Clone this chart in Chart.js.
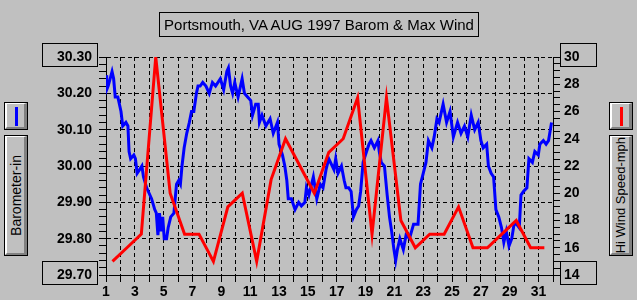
<!DOCTYPE html>
<html>
<head>
<meta charset="utf-8">
<script src="https://cdn.jsdelivr.net/npm/chart.js@4.4.1/dist/chart.umd.min.js"></script>
<style>
    body { margin: 0; background: #c0c0c0; }
    #wrap { position: relative; width: 637px; height: 300px; background: #c0c0c0; font-family: 'Liberation Sans', Arial, sans-serif; overflow: hidden; }
    #chart { position: absolute; left: 0; top: 0; }
    .title { position: absolute; left: 159px; top: 12px; width: 318px; height: 23px; border: 1px solid #000; font-size: 15px; line-height: 23px; text-align: center; color: #000; }
    .btn { position: absolute; box-sizing: border-box; width: 22px; background: #c0c0c0;
           border-style: solid; border-width: 1px 3px 2px 2px; border-color: #fff #808080 #808080 #fff; outline: 1px solid #000; }
    .swatch { position: absolute; left: 8px; top: 3px; width: 3px; height: 19px; }
    .vtext { position: absolute; left: 0; top: 0; width: 100%; height: 100%; display: flex; align-items: center; justify-content: center; }
    .vtext span { writing-mode: vertical-rl; transform: rotate(180deg); font-size: 14px; white-space: nowrap; color: #000; }
</style>
</head>
<body>
<div id="wrap">
    <canvas id="chart" width="637" height="300"></canvas>
    <div class="title">Portsmouth, VA AUG 1997 Barom &amp; Max Wind</div>
    <div class="btn" style="left:5px; top:103px; height:26px;"><div class="swatch" style="background:#0000ff"></div></div>
    <div class="btn" style="left:5px; top:136px; height:119px;"><div class="vtext"><span>Barometer-in</span></div></div>
    <div class="btn" style="left:610px; top:103px; height:26px;"><div class="swatch" style="background:#ff0000"></div></div>
    <div class="btn" style="left:610px; top:136px; height:119px;"><div class="vtext"><span style="font-size:13px">Hi Wind Speed-mph</span></div></div>
</div>
<script>
// barometer readings (day of month, inches)
const baroDays = [
    1.00, 1.05, 1.15, 1.42, 1.53, 1.64, 1.82, 2.04, 2.16, 2.38, 2.52, 2.60, 2.71, 2.93, 3.04, 3.16,
    3.33, 3.49, 3.60, 3.82, 4.16, 4.38, 4.49, 4.60, 4.71, 4.82, 4.93, 5.04, 5.20, 5.31, 5.49, 5.71,
    5.89, 6.04, 6.16, 6.27, 6.42, 6.60, 6.78, 6.93, 7.09, 7.27, 7.38, 7.53, 7.71, 7.93, 8.16, 8.38,
    8.60, 8.93, 9.16, 9.38, 9.49, 9.64, 9.78, 9.93, 10.16, 10.44, 10.60, 10.82, 11.04, 11.16, 11.38, 11.56,
    11.64, 11.82, 12.09, 12.38, 12.60, 12.89, 13.00, 13.24, 13.40, 13.54, 13.64, 13.86, 14.11, 14.36, 14.55, 14.79,
    14.90, 15.07, 15.38, 15.62, 15.86, 16.05, 16.26, 16.45, 16.57, 16.81, 16.93, 17.09, 17.33, 17.52, 17.64, 17.83,
    18.00, 18.16, 18.36, 18.52, 18.66, 18.83, 19.07, 19.24, 19.38, 19.61, 19.86, 19.95, 20.09, 20.31, 20.50, 20.66,
    20.81, 20.97, 21.09, 21.21, 21.38, 21.62, 21.81, 22.05, 22.33, 22.64, 22.81, 23.00, 23.19, 23.36, 23.60, 23.76,
    23.95, 24.10, 24.38, 24.62, 24.86, 25.09, 25.38, 25.62, 25.86, 26.09, 26.33, 26.57, 26.81, 27.00, 27.16, 27.40,
    27.52, 27.71, 27.88, 28.04, 28.24, 28.43, 28.59, 28.76, 28.95, 29.14, 29.30, 29.47, 29.66, 29.78, 29.95, 30.19,
    30.33, 30.57, 30.74, 30.98, 31.09, 31.33, 31.52, 31.69, 31.90
];
const baroValues = [
    30.25, 30.21, 30.22, 30.26, 30.24, 30.19, 30.19, 30.15, 30.11, 30.12, 30.11, 30.04, 30.02, 30.03, 30.02, 29.98,
    29.99, 30.00, 29.97, 29.94, 29.91, 29.88, 29.87, 29.81, 29.87, 29.82, 29.86, 29.80, 29.80, 29.83, 29.86, 29.87,
    29.95, 29.96, 29.95, 30.00, 30.05, 30.09, 30.12, 30.15, 30.15, 30.20, 30.22, 30.22, 30.23, 30.22, 30.20, 30.23,
    30.22, 30.24, 30.21, 30.26, 30.27, 30.22, 30.20, 30.23, 30.19, 30.24, 30.20, 30.19, 30.18, 30.14, 30.17, 30.17,
    30.12, 30.14, 30.11, 30.13, 30.09, 30.12, 30.06, 30.03, 30.00, 29.96, 29.91, 29.91, 29.88, 29.90, 29.89, 29.90,
    29.94, 29.92, 29.97, 29.91, 29.95, 29.94, 29.99, 30.02, 30.01, 29.99, 30.02, 29.98, 30.00, 29.96, 29.94, 29.94,
    29.93, 29.86, 29.88, 29.89, 29.93, 30.01, 30.04, 30.06, 30.07, 30.05, 30.07, 30.04, 30.01, 30.00, 29.92, 29.86,
    29.82, 29.77, 29.74, 29.77, 29.80, 29.77, 29.81, 29.80, 29.84, 29.84, 29.95, 29.98, 30.01, 30.07, 30.05, 30.08,
    30.13, 30.12, 30.17, 30.12, 30.15, 30.08, 30.12, 30.09, 30.11, 30.08, 30.14, 30.10, 30.12, 30.07, 30.05, 30.06,
    30.00, 29.98, 29.97, 29.88, 29.86, 29.83, 29.79, 29.82, 29.78, 29.80, 29.84, 29.84, 29.83, 29.92, 29.93, 29.94,
    30.02, 30.01, 30.04, 30.03, 30.06, 30.07, 30.06, 30.07, 30.12
];

// daily max wind (mph), plotted around midday
const windDays = [
    1.45, 2.45, 3.45, 4.45, 5.45, 6.45, 7.45, 8.45, 9.45, 10.45, 11.45, 12.45, 13.45, 14.45, 15.45, 16.45,
    17.45, 18.45, 19.45, 20.45, 21.45, 22.45, 23.45, 24.45, 25.45, 26.45, 27.45, 28.45, 29.45, 30.45, 31.4
];
const windSpeed = [
    15, 16, 17, 30, 20, 17, 17, 15, 19, 20, 15, 21, 24, 22, 20, 23,
    24, 27, 17, 27, 18, 16, 17, 17, 19, 16, 16, 17, 18, 16, 16
];

const baroRange = [29.70, 30.30];
const windRange = [14, 30];
const dayRange = [1, 32];

const tickFont = { family: "'Liberation Sans', Arial, sans-serif", size: 14, weight: 'bold' };
const isStep = (v, s) => Math.abs(Math.round(v / s) * s - v) < 1e-6;

const endBoxes = {
    id: 'endBoxes',
    afterDraw(chart) {
        const ctx = chart.ctx;
        const yl = chart.scales.y;
        const yr = chart.scales.y2;
        ctx.save();
        ctx.strokeStyle = '#000';
        ctx.lineWidth = 1;
        [yl.max, yl.min].forEach(v => {
            const py = Math.round(yl.getPixelForValue(v));
            ctx.strokeRect(42.5, py - 13.5, 55, 23);
        });
        [yr.max, yr.min].forEach(v => {
            const py = Math.round(yr.getPixelForValue(v));
            ctx.strokeRect(560.5, py - 13.5, 36, 23);
        });
        ctx.restore();
    }
};

new Chart(document.getElementById('chart'), {
    type: 'line',
    data: {
        datasets: [
            {
                label: 'Hi Wind Speed-mph',
                data: windDays.map((d, i) => ({ x: d, y: windSpeed[i] })),
                yAxisID: 'y2',
                borderColor: '#ff0000',
                borderWidth: 3,
                pointRadius: 0,
                tension: 0,
                order: 0
            },
            {
                label: 'Barometer-in',
                data: baroDays.map((d, i) => ({ x: d, y: baroValues[i] })),
                yAxisID: 'y',
                borderColor: '#0000ff',
                borderWidth: 3,
                pointRadius: 0,
                tension: 0,
                order: 1
            }
        ]
    },
    options: {
        responsive: false,
        animation: false,
        layout: { padding: { top: 57, left: 0, right: 0, bottom: 0 } },
        plugins: { legend: { display: false }, tooltip: { enabled: false } },
        scales: {
            x: {
                type: 'linear',
                min: dayRange[0],
                max: dayRange[1],
                afterFit: s => { s.height = 25; },
                afterBuildTicks: s => {
                    s.ticks = [];
                    for (let d = dayRange[0]; d <= dayRange[1]; d++) s.ticks.push({ value: d });
                },
                ticks: {
                    autoSkip: false,
                    maxRotation: 0,
                    padding: 2,
                    color: '#000',
                    font: tickFont,
                    callback: v => (v % 2 === 1 && v < 32 ? String(v) : '')
                },
                grid: { color: '#000', lineWidth: 1, tickLength: 7, tickColor: '#000', tickBorderDash: [] },
                border: { display: true, color: '#000', width: 1, dash: [4, 3] }
            },
            y: {
                position: 'left',
                min: baroRange[0],
                max: baroRange[1],
                afterFit: s => { s.width = 106; },
                afterBuildTicks: s => {
                    s.ticks = [];
                    for (let i = 0; i <= 30; i++) s.ticks.push({ value: +(baroRange[0] + i * 0.02).toFixed(2) });
                },
                ticks: {
                    autoSkip: false,
                    padding: 7,
                    color: '#000',
                    font: tickFont,
                    callback: v => (isStep(v, 0.1) ? v.toFixed(2) : '')
                },
                grid: {
                    color: c => (isStep(c.tick.value, 0.1) ? '#000' : 'rgba(0,0,0,0)'),
                    lineWidth: 1,
                    tickLength: 7,
                    tickColor: '#000',
                    tickBorderDash: []
                },
                border: { display: true, color: '#000', width: 1, dash: [4, 3] }
            },
            y2: {
                position: 'right',
                min: windRange[0],
                max: windRange[1],
                afterFit: s => { s.width = 84; },
                afterBuildTicks: s => {
                    s.ticks = [];
                    for (let v = windRange[0]; v <= windRange[1]; v += 0.5) s.ticks.push({ value: v });
                },
                ticks: {
                    autoSkip: false,
                    padding: 4,
                    color: '#000',
                    font: tickFont,
                    callback: v => (isStep(v, 2) ? String(v) : '')
                },
                grid: { drawOnChartArea: false, tickLength: 7, tickColor: '#000', lineWidth: 1 },
                border: { display: true, color: '#000', width: 1 }
            }
        }
    },
    plugins: [endBoxes]
});
</script>
</body>
</html>
